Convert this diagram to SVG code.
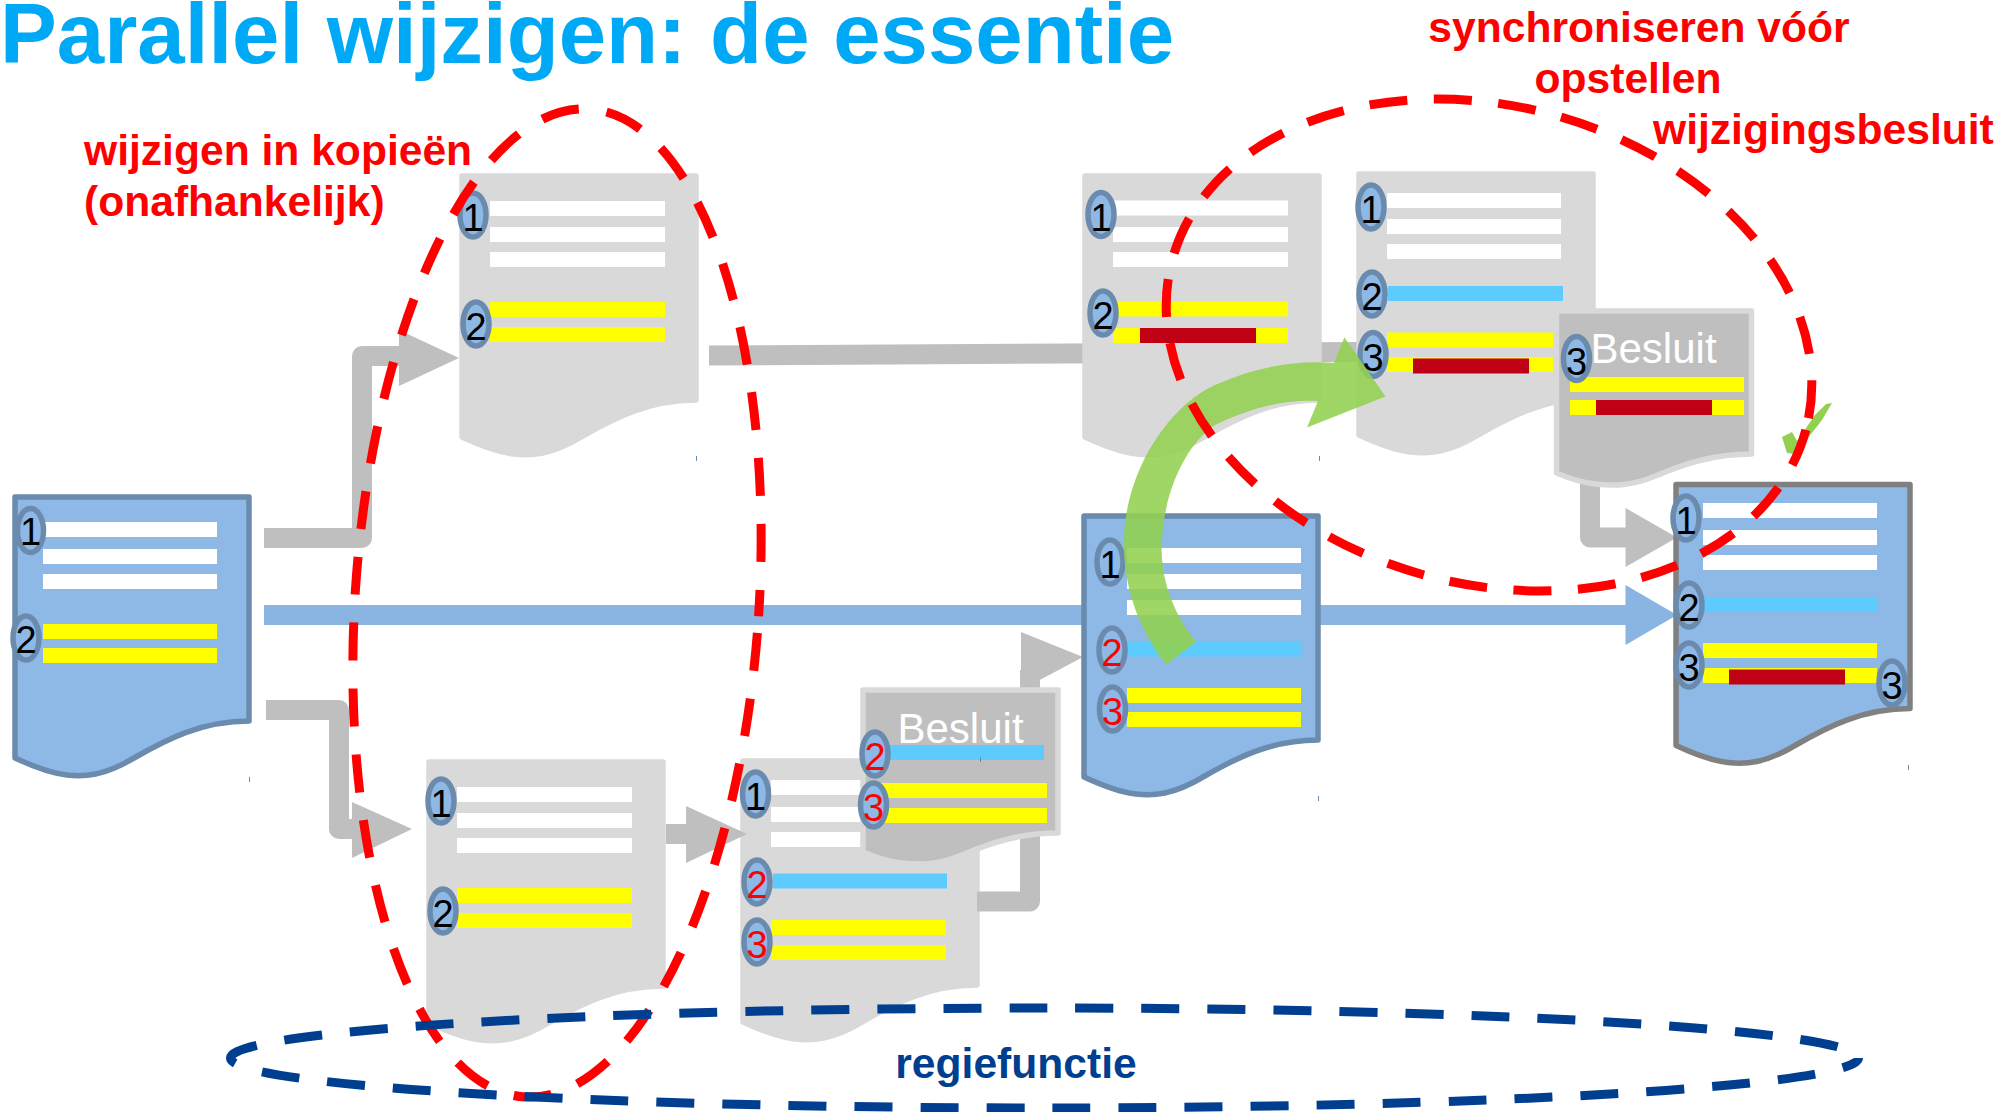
<svg xmlns="http://www.w3.org/2000/svg" width="2006" height="1112" viewBox="0 0 2006 1112">
<style>
text{font-family:"Liberation Sans",Arial,sans-serif}
.title{font-size:85.2px;font-weight:bold;fill:#00a9f5}
.lbl{font-size:42.6px;font-weight:bold;fill:#ff0000}
.reg{font-size:42.6px;font-weight:bold;fill:#003f8f;text-anchor:middle}
.bes{font-size:42px;fill:#fff}
.n{font-size:38px;fill:#000;text-anchor:middle;transform:translateY(1px)}
.r{fill:#ff0000}
.d{stroke-width:5.5;stroke-linejoin:round}
.blue{fill:#8eb8e5;stroke:#6a8bad}
.final{fill:#8eb8e5;stroke:#808080}
.gray{fill:#d9d9d9;stroke:#d9d9d9}
.bs{fill:#bfbfbf;stroke:#d9d9d9;stroke-width:5.5;stroke-linejoin:round}
.w{fill:#fff}.y{fill:#ff0}.c{fill:#5ecbff}.k{fill:#c00015}
.e{fill:#8eb8e5;stroke:#6a8bad;stroke-width:5.5}
.conn{fill:none;stroke:#bfbfbf;stroke-width:20;stroke-linejoin:round}
.ah{fill:#bfbfbf}
.dash{fill:none;stroke-width:9;stroke-dasharray:38 28}
</style>
<defs>
<path id="doc" d="M3,3H237V227C190,227 155,245 122,264C92,282 72,283 55,281C38,279 18,271 3,264Z"/>
<path id="bdoc" d="M3,3H198V146C160,146 130,156 102,168C78,178 60,178 42,176C30,175 15,170 3,165Z"/>
<ellipse id="o" rx="13" ry="22"/>
</defs>
<text class="title" x="0" y="63">Parallel wijzigen: de essentie</text>

<g id="doc-e">
<use href="#doc" x="740" y="758" class="d gray"/>
<rect class="w" x="771" y="780" width="120" height="15"/><rect class="w" x="771" y="807" width="120" height="15"/><rect class="w" x="771" y="832" width="120" height="15"/>
<rect class="c" x="773" y="873.5" width="174" height="15"/>
<rect class="y" x="771" y="920" width="175" height="15"/><rect class="y" x="771" y="945" width="175" height="15"/>
<use href="#o" class="e" x="755.5" y="794"/><text class="n" x="755.5" y="808.5">1</text>
<use href="#o" class="e" x="757" y="882"/><text class="n r" x="757" y="896.5">2</text>
<use href="#o" class="e" x="757" y="942"/><text class="n r" x="757" y="956.5">3</text>
</g>

<g id="connectors">
<path class="conn" d="M264,538H362V356H402"/><polygon class="ah" points="399,330 459,358 399,386"/>
<path class="conn" d="M266,710H339V829H360"/><polygon class="ah" points="352,802 412,829 352,858"/>
<path class="conn" d="M709,355.5L1360,352"/>
<path d="M264,615H1630" fill="none" stroke="#8ab4e1" stroke-width="20"/><polygon fill="#8ab4e1" points="1625.5,585 1677,615 1625.5,645"/>
<path class="conn" d="M1590,480V537.5H1630"/><polygon class="ah" points="1625.5,508 1677,537.5 1625.5,567"/>
<path class="conn" d="M666,834H690"/><polygon class="ah" points="686,806 747,834 686,863"/>
<path class="conn" d="M977,901.5H1030V670"/><polygon class="ah" points="1021,632 1083,657 1021,690"/>
</g>

<g id="doc-0">
<use href="#doc" x="12" y="494" class="d blue"/>
<rect class="w" x="43" y="522" width="174" height="15"/><rect class="w" x="43" y="549" width="174" height="15"/><rect class="w" x="43" y="574" width="174" height="15"/>
<rect class="y" x="43" y="624" width="174" height="15"/><rect class="y" x="43" y="648" width="174" height="15"/>
<use href="#o" class="e" x="30.5" y="530.5"/><text class="n" x="30.5" y="544">1</text>
<use href="#o" class="e" x="26" y="638"/><text class="n" x="26" y="652">2</text>
</g>

<g id="doc-a">
<use href="#doc" x="459" y="173" class="d gray"/>
<rect class="w" x="490" y="201" width="175" height="15"/><rect class="w" x="490" y="227" width="175" height="15"/><rect class="w" x="490" y="252" width="175" height="15"/>
<rect class="y" x="490" y="302" width="175" height="15"/><rect class="y" x="490" y="327" width="175" height="15"/>
<use href="#o" class="e" x="473" y="215"/><text class="n" x="473" y="230">1</text>
<use href="#o" class="e" x="476" y="324"/><text class="n" x="476" y="339">2</text>
</g>

<g id="doc-b">
<use href="#doc" x="1082" y="173" class="d gray"/>
<rect class="w" x="1113" y="200.5" width="175" height="15"/><rect class="w" x="1113" y="227" width="175" height="15"/><rect class="w" x="1113" y="252" width="175" height="15"/>
<rect class="y" x="1113" y="301.5" width="175" height="15"/><rect class="y" x="1113" y="328" width="175" height="15"/><rect class="k" x="1140" y="328" width="116" height="15"/>
<use href="#o" class="e" x="1101" y="214.5"/><text class="n" x="1101" y="229.5">1</text>
<use href="#o" class="e" x="1103" y="313"/><text class="n" x="1103" y="328">2</text>
</g>

<g id="doc-c">
<use href="#doc" x="1356" y="171" class="d gray"/>
<rect class="w" x="1387" y="193" width="174" height="15"/><rect class="w" x="1387" y="219" width="174" height="15"/><rect class="w" x="1387" y="244" width="174" height="15"/>
<rect class="c" x="1388" y="286" width="175" height="15"/>
<rect class="y" x="1387" y="332.5" width="166" height="15"/><rect class="y" x="1387" y="357" width="166" height="15"/><rect class="k" x="1413" y="358.5" width="116" height="15"/>
<use href="#o" class="e" x="1371" y="207"/><text class="n" x="1371" y="222">1</text>
<use href="#o" class="e" x="1372" y="294"/><text class="n" x="1372" y="309">2</text>
<use href="#o" class="e" x="1373" y="354.5"/><text class="n" x="1373" y="369.5">3</text>
</g>

<g id="besluit-top">
<use href="#bdoc" x="1553.5" y="308" class="bs"/>
<text class="bes" x="1590.5" y="363">Besluit</text>
<rect class="y" x="1570" y="377" width="174" height="15"/><rect class="y" x="1570" y="400" width="174" height="15"/><rect class="k" x="1596" y="400" width="116" height="15"/>
<use href="#o" class="e" x="1576.5" y="358.5"/><text class="n" x="1576.5" y="373.5">3</text>
</g>

<g id="doc-mid">
<use href="#doc" x="1081" y="513" class="d blue"/>
<rect class="w" x="1127" y="548" width="174" height="15"/><rect class="w" x="1127" y="574" width="174" height="15"/><rect class="w" x="1127" y="600" width="174" height="15"/>
<rect class="c" x="1128" y="641.5" width="174" height="15"/>
<rect class="y" x="1127" y="688" width="174" height="15"/><rect class="y" x="1127" y="712" width="174" height="15"/>
<use href="#o" class="e" x="1110" y="562"/><text class="n" x="1110" y="577">1</text>
<use href="#o" class="e" x="1112" y="650"/><text class="n r" x="1112" y="665">2</text>
<use href="#o" class="e" x="1112.5" y="709"/><text class="n r" x="1112.5" y="724">3</text>
</g>

<g id="doc-final">
<use href="#doc" x="1673" y="481.5" class="d final"/>
<rect class="w" x="1703" y="503" width="174" height="15"/><rect class="w" x="1703" y="530" width="174" height="15"/><rect class="w" x="1703" y="555" width="174" height="15"/>
<rect class="c" x="1703" y="597" width="175" height="15"/>
<rect class="y" x="1703" y="643" width="174" height="15"/><rect class="y" x="1703" y="668" width="174" height="15"/><rect class="k" x="1729" y="669.5" width="116" height="15"/>
<use href="#o" class="e" x="1686" y="518"/><text class="n" x="1686" y="532.5">1</text>
<use href="#o" class="e" x="1689" y="605"/><text class="n" x="1689" y="619.5">2</text>
<use href="#o" class="e" x="1689" y="665"/><text class="n" x="1689" y="679.5">3</text>
<use href="#o" class="e" x="1892" y="683"/><text class="n" x="1892" y="697.5">3</text>
</g>

<g id="doc-d">
<use href="#doc" x="426" y="759" class="d gray"/>
<rect class="w" x="457" y="787" width="175" height="15"/><rect class="w" x="457" y="813" width="175" height="15"/><rect class="w" x="457" y="838" width="175" height="15"/>
<rect class="y" x="457" y="888" width="175" height="15"/><rect class="y" x="457" y="913" width="175" height="15"/>
<use href="#o" class="e" x="441" y="801"/><text class="n" x="441" y="816">1</text>
<use href="#o" class="e" x="443" y="911"/><text class="n" x="443" y="926">2</text>
</g>

<g id="besluit-low">
<use href="#bdoc" x="860" y="687" class="bs"/>
<text class="bes" x="897.5" y="743">Besluit</text>
<rect class="c" x="887" y="745" width="157" height="15"/>
<rect class="y" x="880" y="783" width="167" height="15"/><rect class="y" x="880" y="808" width="167" height="15"/>
<use href="#o" class="e" x="875" y="754"/><text class="n r" x="875" y="769">2</text>
<use href="#o" class="e" x="873.5" y="805"/><text class="n r" x="873.5" y="820">3</text>
</g>

<path id="ticks" fill="none" stroke="#6a8bad" stroke-width="1" d="M249.5,777v5M696.5,456v5M1319.5,456v5M1908.5,765v5M1318.5,796v5M980.5,757v5"/>

<g id="green-arrow">
<path fill="#92d050" opacity="0.88" d="M1166,664.5C1135,625 1123,580 1124,540C1125,470 1170,405 1215,385C1255,367 1295,360 1334,363L1344.4,337.3L1385.4,396.6L1307,427.6L1318,401C1285,399 1250,408 1215,425C1185,445 1162,495 1161.6,549C1162,585 1175,615 1196,642Z"/>
</g>
<path id="check" fill="#92d050" d="M1782,437L1792,432L1797,441L1815,415L1826,404L1832,403L1822,420L1808,438L1795,454L1787,453Z"/>

<ellipse id="red-left" class="dash" stroke="#ff0000" stroke-dashoffset="49.2" cx="557" cy="603" rx="202" ry="495" transform="rotate(3.75 557 603)"/>
<ellipse id="red-right" class="dash" style="stroke-dasharray:38 26.5" stroke="#ff0000" stroke-dashoffset="0.2" cx="1489" cy="345" rx="328" ry="239" transform="rotate(15 1489 345)"/>
<ellipse id="regie" class="dash" stroke="#003f8f" stroke-dashoffset="18.4" cx="1044.5" cy="1058" rx="814" ry="50"/>

<text class="lbl" x="84" y="165">wijzigen in kopieën</text>
<text class="lbl" x="84" y="216">(onafhankelijk)</text>
<text class="lbl" x="1639" y="42" text-anchor="middle">synchroniseren vóór</text>
<text class="lbl" x="1628" y="93" text-anchor="middle">opstellen</text>
<text class="lbl" x="1653" y="144">wijzigingsbesluit</text>
<text class="reg" x="1016" y="1078">regiefunctie</text>
</svg>
